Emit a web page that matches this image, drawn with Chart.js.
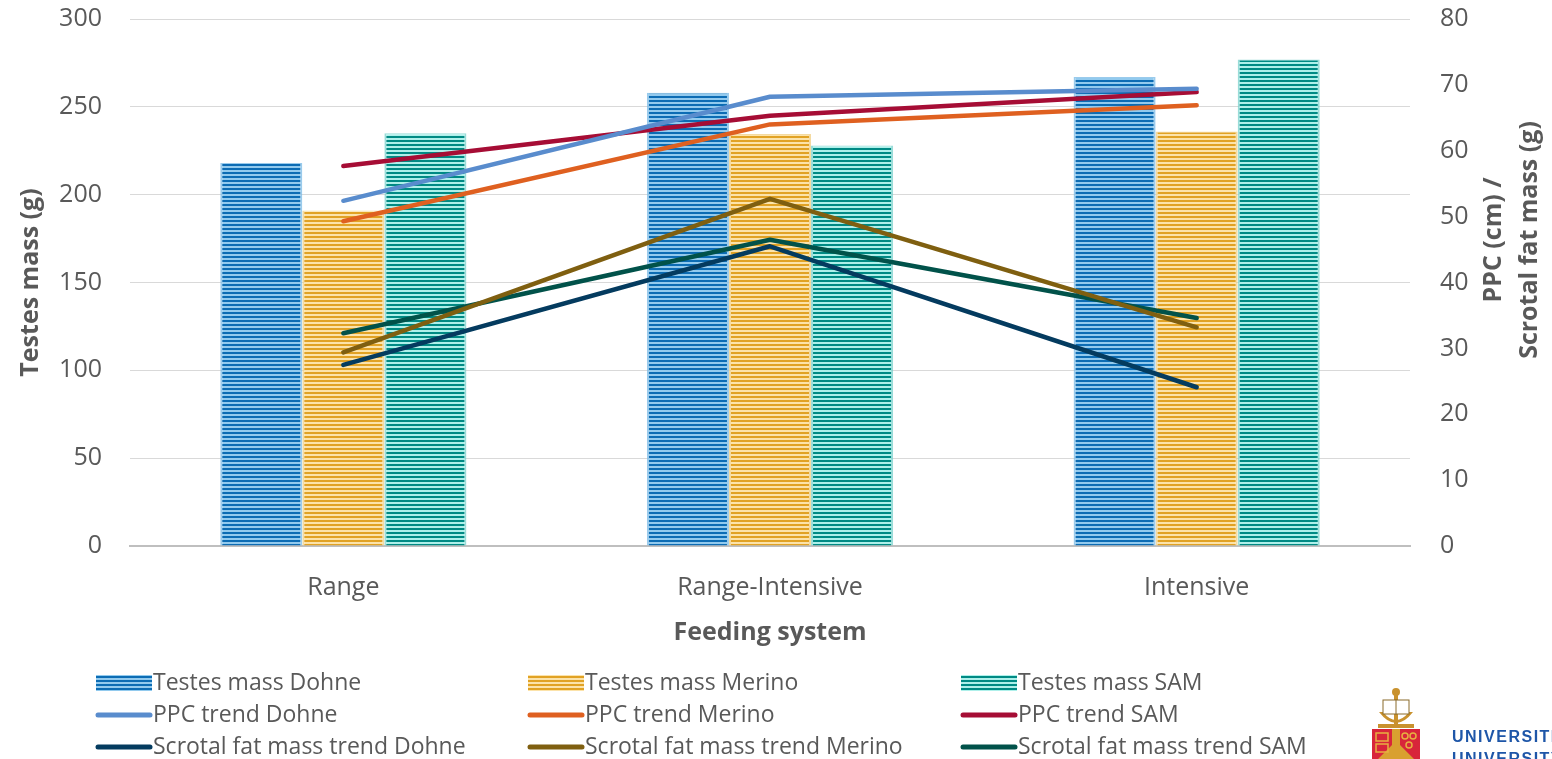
<!DOCTYPE html>
<html>
<head>
<meta charset="utf-8">
<title>Testes mass, PPC and scrotal fat mass by feeding system</title>
<script src="https://cdn.jsdelivr.net/npm/chart.js@4.4.1/dist/chart.umd.min.js"></script>
<style>
  html, body { margin: 0; padding: 0; background: #ffffff; }
  #wrap { position: relative; width: 1552px; height: 759px; }
</style>
</head>
<body>
<div id="wrap"><canvas id="chart" width="1552" height="759"></canvas></div>
<script>
// Feeding systems on the category axis
const categories = ['Range', 'Range-Intensive', 'Intensive'];

// Testes mass (g) — left axis
const testesDohne  = [218, 258, 267];
const testesMerino = [191, 234.5, 236];
const testesSAM    = [235, 228, 277];

// PPC (cm) — right axis
const ppcDohne  = [52.4, 68.2, 69.4];
const ppcMerino = [49.3, 64.0, 66.9];
const ppcSAM    = [57.7, 65.3, 68.9];

// Scrotal fat mass (g) — right axis
const fatDohne  = [27.5, 45.5, 24.1];
const fatMerino = [29.4, 52.7, 33.2];
const fatSAM    = [32.3, 46.5, 34.6];

// Axis ranges and tick steps
const leftMin = 0, leftMax = 300, leftStep = 50;
const rightMin = 0, rightMax = 80, rightStep = 10;

const TEXT = '#595959';
const FONT = "'Open Sans', 'Noto Sans', sans-serif";

// Horizontal stripe fill for the bars
function stripes(dark, light) {
  const c = document.createElement('canvas');
  c.width = 4; c.height = 4;
  const g = c.getContext('2d');
  g.fillStyle = light; g.fillRect(0, 0, 4, 4);
  g.fillStyle = dark;  g.fillRect(0, 0, 4, 2);
  return g.createPattern(c, 'repeat');
}

const barStyle = (label, data, dark, light, edge) => ({
  type: 'bar', label, data, yAxisID: 'y', order: 2,
  backgroundColor: stripes(dark, light),
  borderColor: edge, borderWidth: { left: 2, right: 2, top: 1, bottom: 0 },
  borderSkipped: 'bottom',
  categoryPercentage: 0.577, barPercentage: 1.0
});

const lineStyle = (label, data, color) => ({
  type: 'line', label, data, yAxisID: 'y2', order: 1,
  borderColor: color, backgroundColor: color, borderWidth: 4.5,
  borderCapStyle: 'round', borderJoinStyle: 'round',
  pointRadius: 0, pointHoverRadius: 0, tension: 0, fill: false
});

const datasets = [
  barStyle('Testes mass Dohne',  testesDohne,  '#0C6CB4', '#92CAEE', 'rgba(120,185,230,0.75)'),
  barStyle('Testes mass Merino', testesMerino, '#E1A224', '#FCE3AA', 'rgba(240,205,130,0.75)'),
  barStyle('Testes mass SAM',    testesSAM,    '#008A84', '#AEF0EA', 'rgba(120,210,204,0.75)'),
  lineStyle('PPC trend Dohne',  ppcDohne,  '#598CCD'),
  lineStyle('PPC trend Merino', ppcMerino, '#DF6020'),
  lineStyle('PPC trend SAM',    ppcSAM,    '#A60D35'),
  lineStyle('Scrotal fat mass trend Dohne',  fatDohne,  '#043B5F'),
  lineStyle('Scrotal fat mass trend Merino', fatMerino, '#7F5F10'),
  lineStyle('Scrotal fat mass trend SAM',    fatSAM,    '#01524A')
];

// Axis titles, three-column legend and the crest in the corner
const decorations = {
  id: 'decorations',
  afterDraw(chart) {
    const ctx = chart.ctx;
    const area = chart.chartArea;
    ctx.save();
    ctx.fillStyle = TEXT;
    ctx.textBaseline = 'middle';
    ctx.textAlign = 'center';
    ctx.font = `bold 25px ${FONT}`;

    // left axis title
    ctx.save();
    ctx.translate(31, (area.top + area.bottom) / 2);
    ctx.rotate(-Math.PI / 2);
    ctx.fillText('Testes mass (g)', 0, 0);
    ctx.restore();

    // right axis title, two lines
    ctx.save();
    ctx.translate(1512, 240);
    ctx.rotate(-Math.PI / 2);
    ctx.fillText('PPC (cm) /', 0, -18);
    ctx.fillText('Scrotal fat mass (g)', 0, 18);
    ctx.restore();

    // category axis title
    ctx.fillText('Feeding system', (area.left + area.right) / 2, 633);

    // legend
    const colX = [95, 527, 960];
    const rowY = [683, 715, 747];
    ctx.font = `23px ${FONT}`;
    ctx.textAlign = 'left';
    chart.data.datasets.forEach((ds, i) => {
      const x = colX[i % 3], y = rowY[Math.floor(i / 3)];
      if (ds.type === 'bar') {
        ctx.fillStyle = ds.backgroundColor;
        ctx.fillRect(x + 1, y - 8, 56, 16);
      } else {
        ctx.strokeStyle = ds.borderColor;
        ctx.lineWidth = 5;
        ctx.lineCap = 'round';
        ctx.beginPath();
        ctx.moveTo(x + 3, y);
        ctx.lineTo(x + 55, y);
        ctx.stroke();
      }
      ctx.fillStyle = TEXT;
      ctx.fillText(ds.label, x + 58, y);
    });

    // crest
    const cx = 1396;
    ctx.fillStyle = '#C9922E';
    ctx.beginPath(); ctx.arc(cx, 692, 4, 0, Math.PI * 2); ctx.fill();
    ctx.fillRect(cx - 2, 692, 4, 32);
    ctx.beginPath();
    ctx.moveTo(cx - 17, 712); ctx.quadraticCurveTo(cx, 734, cx + 17, 712);
    ctx.lineTo(cx + 13, 712); ctx.quadraticCurveTo(cx, 728, cx - 13, 712);
    ctx.closePath(); ctx.fill();
    ctx.fillStyle = '#ffffff';
    ctx.strokeStyle = '#8a6a2a'; ctx.lineWidth = 1;
    ctx.fillRect(cx - 13, 700, 26, 14); ctx.strokeRect(cx - 13, 700, 26, 14);
    ctx.beginPath(); ctx.moveTo(cx, 700); ctx.lineTo(cx, 714); ctx.stroke();
    ctx.fillStyle = '#C9922E';
    ctx.fillRect(cx - 18, 724, 36, 4);
    ctx.fillStyle = '#D8253A';
    ctx.fillRect(cx - 24, 729, 48, 30);
    ctx.fillStyle = '#D9A030';
    ctx.beginPath();
    ctx.moveTo(cx - 4, 729); ctx.lineTo(cx + 4, 729); ctx.lineTo(cx + 4, 745);
    ctx.lineTo(cx + 18, 759); ctx.lineTo(cx - 18, 759); ctx.lineTo(cx - 4, 745);
    ctx.closePath(); ctx.fill();
    ctx.strokeStyle = '#E7B040'; ctx.lineWidth = 1.5;
    [[cx + 9, 736], [cx + 17, 736], [cx + 13, 745]].forEach(([px, py]) => {
      ctx.beginPath(); ctx.arc(px, py, 3, 0, Math.PI * 2); ctx.stroke();
    });
    ctx.strokeRect(cx - 20, 733, 12, 8);
    ctx.strokeRect(cx - 20, 744, 12, 8);

    ctx.fillStyle = '#1E56A8';
    ctx.font = "bold 16px 'Liberation Sans Narrow', 'Liberation Sans', sans-serif";
    ctx.textBaseline = 'alphabetic';
    if ('letterSpacing' in ctx) ctx.letterSpacing = '1.5px';
    ctx.fillText('UNIVERSITEIT', 1452, 742);
    ctx.fillText('UNIVERSITY', 1452, 764);
    ctx.restore();
  }
};

// Keep the plot area's top edge on the layout padding
function noLabelPadding(s) { s.paddingTop = 0; s.paddingBottom = 0; }

new Chart(document.getElementById('chart'), {
  data: { labels: categories, datasets },
  options: {
    responsive: false,
    animation: false,
    events: [],
    layout: { padding: { top: 19, bottom: 0, left: 0, right: 0 } },
    plugins: { legend: { display: false }, tooltip: { enabled: false } },
    scales: {
      x: {
        type: 'category',
        grid: { display: false, drawTicks: false },
        border: { display: true, color: '#BFBFBF', width: 2 },
        ticks: { color: TEXT, font: { family: FONT, size: 25 }, padding: 27 },
        afterFit(s) { s.height = 213; s.paddingLeft = 0; s.paddingRight = 0; }
      },
      y: {
        position: 'left',
        min: leftMin, max: leftMax,
        ticks: { stepSize: leftStep, color: TEXT, font: { family: FONT, size: 25 }, padding: 28 },
        grid: { color: '#D9D9D9', lineWidth: 1, drawTicks: false },
        border: { display: false },
        afterFit(s) { s.width = 130; noLabelPadding(s); }
      },
      y2: {
        position: 'right',
        min: rightMin, max: rightMax,
        ticks: { stepSize: rightStep, color: TEXT, font: { family: FONT, size: 25 }, padding: 30 },
        grid: { display: false, drawTicks: false },
        border: { display: false },
        afterFit(s) { s.width = 142; noLabelPadding(s); }
      }
    }
  },
  plugins: [decorations]
});
</script>
</body>
</html>
